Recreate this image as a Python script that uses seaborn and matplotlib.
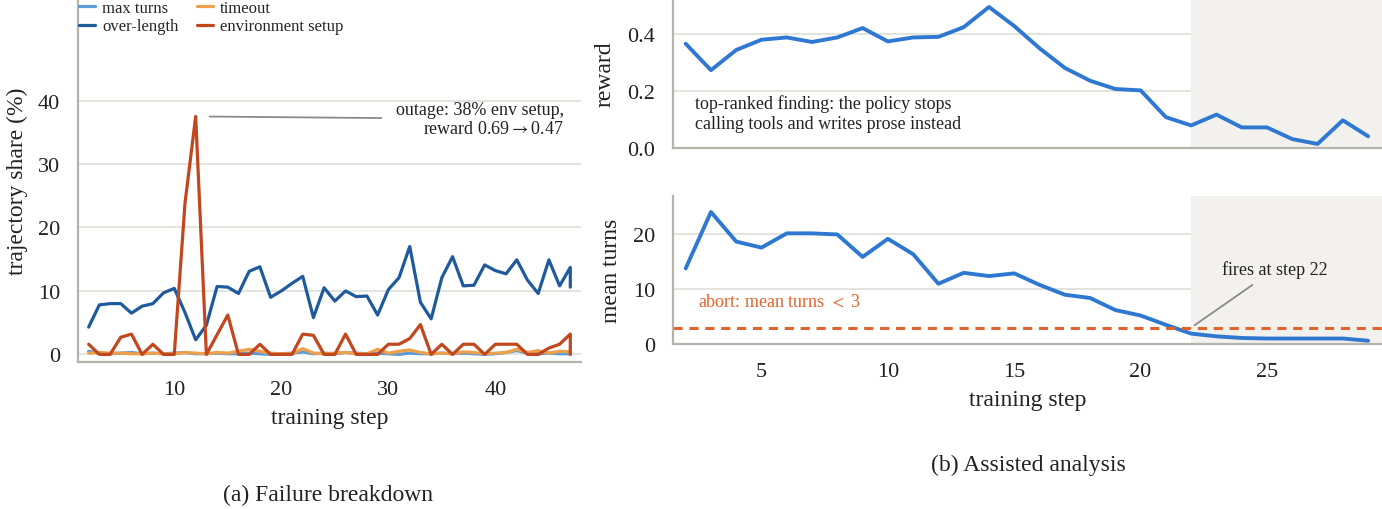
import numpy as np
import pandas as pd
import matplotlib
matplotlib.use("Agg")
import matplotlib.pyplot as plt
import seaborn as sns

# (a) failure breakdown, share of trajectories per step (last step logged twice)
steps_a = list(range(2, 48)) + [47]
max_turns = [0.5, 0.2, 0.1, 0.2, 0.3, 0.1, 0.2, 0.1, 0.2, 0.3, 0.1, 0.1, 0.2, 0.1,
             0.1, 0.2, 0.1, 0.0, 0.1, 0.2, 0.4, 0.1, 0.2, 0.1, 0.3, 0.2, 0.1, 0.2,
             0.1, 0.0, 0.2, 0.1, 0.1, 0.2, 0.1, 0.2, 0.1, 0.0, 0.1, 0.3, 0.6, 0.2,
             0.1, 0.2, 0.1, 0.1, 0.1]
over_length = [4.3, 7.8, 8.0, 8.0, 6.5, 7.6, 8.0, 9.7, 10.4, 6.6, 2.3, 4.6, 10.7,
               10.6, 9.6, 13.1, 13.8, 9.0, 10.0, 11.2, 12.3, 5.8, 10.5, 8.4, 10.0,
               9.1, 9.2, 6.2, 10.2, 12.1, 17.0, 8.2, 5.6, 12.1, 15.4, 10.8, 10.9,
               14.1, 13.2, 12.7, 14.9, 11.7, 9.6, 14.9, 10.8, 13.7, 10.6]
timeout = [0.2, 0.3, 0.2, 0.2, 0.1, 0.1, 0.2, 0.1, 0.1, 0.3, 0.2, 0.1, 0.3, 0.2,
           0.5, 0.8, 0.5, 0.2, 0.1, 0.1, 0.9, 0.2, 0.1, 0.2, 0.3, 0.1, 0.1, 0.8,
           0.2, 0.5, 0.7, 0.3, 0.1, 0.2, 0.1, 0.4, 0.3, 0.1, 0.2, 0.3, 0.8, 0.3,
           0.6, 0.2, 0.5, 0.4, 0.4]
env_setup = [1.6, 0, 0, 2.7, 3.2, 0, 1.6, 0, 0, 23.8, 37.5, 0, 3.1, 6.2, 0, 0,
             1.6, 0, 0, 0, 3.2, 3.0, 0, 0, 3.2, 0, 0, 0, 1.6, 1.6, 2.5, 4.7, 0,
             1.6, 0, 1.6, 1.6, 0, 1.6, 1.6, 1.6, 0, 0, 1.0, 1.6, 3.2, 0]
series_names = ["max turns", "over-length", "timeout", "environment setup"]
series_colors = ["#5e9ad8", "#1f5a9c", "#eea04a", "#c2461e"]

# (b) assisted analysis
steps_b = list(range(2, 30))
reward = [0.366, 0.273, 0.344, 0.380, 0.388, 0.372, 0.388, 0.421, 0.374, 0.388,
          0.390, 0.424, 0.495, 0.428, 0.350, 0.281, 0.236, 0.207, 0.202, 0.108,
          0.079, 0.117, 0.072, 0.072, 0.031, 0.014, 0.097, 0.041]
mean_turns = [13.8, 24.1, 18.7, 17.6, 20.2, 20.2, 20.0, 15.9, 19.2, 16.4, 11.0,
              13.0, 12.4, 12.9, 10.8, 9.0, 8.4, 6.2, 5.2, 3.5, 1.9, 1.4, 1.1,
              1.0, 1.0, 1.0, 1.0, 0.6]
abort_level = 3
fire_step = 22

sns.set_theme(style="white")
plt.rcParams["font.family"] = ["Liberation Serif", "DejaVu Serif"]
plt.rcParams["mathtext.fontset"] = "stix"
plt.rcParams["axes.axisbelow"] = True

SPINE = "#b4b4ac"
GRID = "#dcdcd6"
TEXT = "#222222"
LINE_B = "#2f78d2"


def style_axes(ax):
    sns.despine(ax=ax)
    for side in ["left", "bottom"]:
        ax.spines[side].set_color(SPINE)
        ax.spines[side].set_linewidth(1.6)
    ax.yaxis.grid(True, color=GRID, lw=1.1)
    ax.xaxis.grid(False)
    ax.tick_params(direction="out", length=7, width=1.6, color="#8c8c86",
                   labelcolor=TEXT, labelsize=16, pad=6)


fig = plt.figure(figsize=(13.82, 5.10), dpi=100)
ax_a = fig.add_axes([0.0564, 0.2882, 0.364, 0.7118])
ax_r = fig.add_axes([0.4870, 0.708, 0.5130, 0.292])
ax_t = fig.add_axes([0.4870, 0.3235, 0.5130, 0.290])

# ---- (a)
long_a = pd.DataFrame({
    "step": steps_a * 4,
    "share": max_turns + over_length + timeout + env_setup,
    "kind": sum([[n] * len(steps_a) for n in series_names], []),
})
sns.lineplot(data=long_a, x="step", y="share", hue="kind", hue_order=series_names,
             palette=series_colors, estimator=None, sort=False, lw=2.3,
             legend=False, ax=ax_a)
style_axes(ax_a)
ax_a.set_xlim(1, 48)
ax_a.set_ylim(-1.2, 56)
ax_a.set_yticks([0, 10, 20, 30, 40])
ax_a.set_xticks([10, 20, 30, 40])
ax_a.set_xlabel("training step", fontsize=17, color=TEXT, labelpad=6)
ax_a.set_ylabel("trajectory share (%)", fontsize=17, color=TEXT, labelpad=7)

handles = [plt.Line2D([], [], color=c, lw=2.3) for c in series_colors]
ax_a.legend(handles, series_names, loc="upper left", bbox_to_anchor=(0.0, 1.0),
            ncol=2, frameon=False, fontsize=12, handlelength=1.0,
            handletextpad=0.4, columnspacing=1.1, labelspacing=0.15,
            borderaxespad=0, borderpad=0.05)

ax_a.annotate("outage: 38% env setup,\nreward 0.69$\\rightarrow$0.47",
              xy=(12, 37.5), xytext=(46.4, 37.1), ha="right", va="center",
              multialignment="right", fontsize=13, color=TEXT,
              arrowprops=dict(arrowstyle="-", color="#8a8a8a", lw=1.3,
                              shrinkA=8, shrinkB=10))

# ---- (b) reward
df_b = pd.DataFrame({"step": steps_b, "reward": reward, "turns": mean_turns})
sns.lineplot(data=df_b, x="step", y="reward", color=LINE_B, lw=2.8, ax=ax_r)
style_axes(ax_r)
ax_r.axvspan(fire_step, 29.6, color="#f2f1ed", lw=0)
ax_r.set_xlim(1.5, 29.55)
ax_r.set_ylim(0, 0.523)
ax_r.set_yticks([0.0, 0.2, 0.4])
ax_r.set_xticks([5, 10, 15, 20, 25])
ax_r.tick_params(axis="x", labelbottom=False)
ax_r.set_xlabel("")
ax_r.set_ylabel("reward", fontsize=17, color=TEXT, labelpad=8)
ax_r.text(2.35, 0.123, "top-ranked finding: the policy stops\ncalling tools and writes prose instead",
          ha="left", va="center", fontsize=13, color=TEXT, linespacing=1.25)

# ---- (b) mean turns
sns.lineplot(data=df_b, x="step", y="turns", color=LINE_B, lw=2.8, ax=ax_t)
style_axes(ax_t)
ax_t.axvspan(fire_step, 29.6, color="#f2f1ed", lw=0)
ax_t.axhline(abort_level, color="#e2642c", lw=2.2, ls=(0, (3, 2.2)))
ax_t.set_xlim(1.5, 29.55)
ax_t.set_ylim(0, 27)
ax_t.set_yticks([0, 10, 20])
ax_t.set_xticks([5, 10, 15, 20, 25])
ax_t.set_xlabel("training step", fontsize=17, color=TEXT, labelpad=6)
ax_t.set_ylabel("mean turns", fontsize=17, color=TEXT, labelpad=8)
ax_t.text(2.5, 7.9, "abort: mean turns $<$ 3", ha="left", va="center",
          fontsize=13, color="#e2642c")
ax_t.annotate("fires at step 22", xy=(fire_step, abort_level), xytext=(25.3, 13.6),
              ha="center", va="center", fontsize=13, color=TEXT,
              arrowprops=dict(arrowstyle="-", color="#8a8a8a", lw=1.3,
                              shrinkA=4, shrinkB=3))

fig.text(0.2375, 0.029, "(a) Failure breakdown", ha="center", va="center",
         fontsize=17, color=TEXT)
fig.text(0.744, 0.088, "(b) Assisted analysis", ha="center", va="center",
         fontsize=17, color=TEXT)

fig.savefig("out.png", dpi=100)
